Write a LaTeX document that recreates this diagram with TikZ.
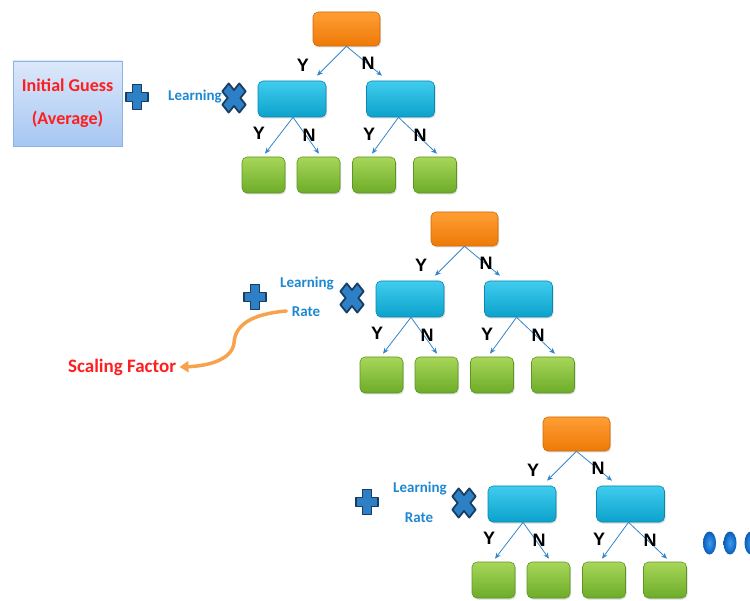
\documentclass[tikz,border=0pt]{standalone}
\usepackage{fontspec}
\setmainfont{Carlito}
\newfontfamily\ynfont{Liberation Sans}
\usetikzlibrary{shadows,arrows.meta,calc}

\definecolor{orangeT}{HTML}{FF9E34}
\definecolor{orangeB}{HTML}{EE7A08}
\definecolor{orangeD}{HTML}{D06A00}
\definecolor{cyanT}{HTML}{40CCEE}
\definecolor{cyanB}{HTML}{0CA2CC}
\definecolor{cyanD}{HTML}{0A88B0}
\definecolor{greenT}{HTML}{A8D65A}
\definecolor{greenB}{HTML}{6CAC28}
\definecolor{greenD}{HTML}{5C9620}
\definecolor{flowblue}{HTML}{3486CA}
\definecolor{opblue}{HTML}{2E80C6}
\definecolor{opnavy}{HTML}{183C62}
\definecolor{learnblue}{HTML}{1E88D2}
\definecolor{guessred}{HTML}{FF1E1E}
\definecolor{guessT}{HTML}{DCE8FA}
\definecolor{guessB}{HTML}{A6C6F2}
\definecolor{guessD}{HTML}{8EB2E4}
\definecolor{curveorange}{HTML}{F7A24C}
\definecolor{dotlight}{HTML}{3A9CF0}
\definecolor{dotdark}{HTML}{0A5CB8}

\tikzset{
  box/.style={rounded corners=5pt, inner sep=0pt, line width=0.6pt,
    drop shadow={opacity=0.3, shadow xshift=1pt, shadow yshift=-1.5pt}},
  rootbox/.style={box, minimum width=67pt, minimum height=34pt,
    top color=orangeT, bottom color=orangeB, draw=orangeD},
  midbox/.style={box, minimum width=68pt, minimum height=36pt,
    top color=cyanT, bottom color=cyanB, draw=cyanD},
  leafbox/.style={box, minimum width=43pt, minimum height=36pt,
    top color=greenT, bottom color=greenB, draw=greenD},
  yn/.style={font=\ynfont\bfseries\fontsize{18}{18}\selectfont, inner sep=0pt},
  flow/.style={draw=flowblue, line width=0.8pt, -{Stealth[length=6pt,width=5pt]}},
  optext/.style={font=\bfseries\fontsize{15}{18}\selectfont, text=learnblue},
  scalearrow/.style={draw=curveorange, line width=3.5pt, line cap=round,
    -{Triangle[length=9pt,width=11pt]}},
  dot/.style={inner color=dotlight, outer color=dotdark},
  plussign/.pic={
    \draw[line width=1.8pt, draw=opnavy, fill=opblue, line join=round]
      (-4.5,-12.5) -- (4.5,-12.5) -- (4.5,-4.5) -- (11,-4.5) -- (11,4.5) -- (4.5,4.5)
      -- (4.5,12.5) -- (-4.5,12.5) -- (-4.5,4.5) -- (-11,4.5) -- (-11,-4.5) -- (-4.5,-4.5) -- cycle;},
  timessign/.pic={
    \draw[line width=1.8pt, draw=opnavy, fill=opblue, line join=round,
          yscale=1.25, rotate=45]
      (-4.5,-12) -- (4.5,-12) -- (4.5,-4.5) -- (12,-4.5) -- (12,4.5) -- (4.5,4.5)
      -- (4.5,12) -- (-4.5,12) -- (-4.5,4.5) -- (-12,4.5) -- (-12,-4.5) -- (-4.5,-4.5) -- cycle;},
}

% one boosting stage: a depth-two decision tree with its + and x operators
\newcommand\drawtree[3]{%
\begin{scope}[shift={(#2,#3)}]
  \node[rootbox] (#1-root) at (346.5,29) {};
  \node[midbox]  (#1-yes)  at (292,99) {};
  \node[midbox]  (#1-no)   at (400.5,99) {};
  \node[leafbox] (#1-yy)   at (263.5,175) {};
  \node[leafbox] (#1-yn)   at (318.5,175) {};
  \node[leafbox] (#1-ny)   at (374,175) {};
  \node[leafbox] (#1-nn)   at (435,175) {};
  \draw[flow] (#1-root.south) -- ([xshift=25pt,yshift=5pt]#1-yes.north);
  \draw[flow] (#1-root.south) -- ([xshift=-18.5pt,yshift=5pt]#1-no.north);
  \draw[flow] ([xshift=1pt]#1-yes.south) -- ([xshift=1.5pt,yshift=3pt]#1-yy.north);
  \draw[flow] ([xshift=1pt]#1-yes.south) -- ([xshift=0.5pt,yshift=3pt]#1-yn.north);
  \draw[flow] ([xshift=-2pt]#1-no.south) -- ([xshift=-2pt,yshift=3pt]#1-ny.north);
  \draw[flow] ([xshift=-2pt]#1-no.south) -- ([xshift=2pt,yshift=3pt]#1-nn.north);
  \node[yn] (#1-ly)  at (303,65)  {Y};
  \node[yn] (#1-ln)  at (368,63)  {N};
  \node[yn] (#1-lyy) at (259,133) {Y};
  \node[yn] (#1-lyn) at (309,135) {N};
  \node[yn] (#1-lny) at (369,134) {Y};
  \node[yn] (#1-lnn) at (420,135) {N};
  \pic at (137,97) {plussign};
  \pic at (234,98) {timessign};
\end{scope}}

\begin{document}
\begin{tikzpicture}[x=1pt, y=-1pt]
  \clip (0,0) rectangle (750,601);

  % first stage, started from the initial guess
  \node[draw=guessD, line width=0.8pt, top color=guessT, bottom color=guessB,
        minimum width=109pt, minimum height=85pt, inner sep=0pt,
        drop shadow={opacity=0.3, shadow xshift=1pt, shadow yshift=-1.5pt},
        align=center, text=guessred,
        font=\bfseries\fontsize{18}{33}\selectfont]
        (guess) at (67.5,103.5) {Initial Guess\\(Average)};
  \drawtree{ta}{0}{0}
  \node[optext] (ta-learn) at (195,97) {Learning};

  % second stage
  \drawtree{tb}{118}{200}
  \node[optext] (tb-learn) at (307,284) {Learning};
  \node[optext] (tb-rate)  at (306,312) {Rate};

  % third stage
  \drawtree{tc}{230}{405}
  \node[optext] (tc-learn) at (420,489) {Learning};
  \node[optext] (tc-rate)  at (419,518) {Rate};

  % the learning rate acts as a scaling factor
  \node[font=\bfseries\fontsize{19}{19}\selectfont, text=guessred]
        (scale) at (122,367) {Scaling Factor};
  \coordinate (bend) at (234,343);
  \draw[scalearrow] ([xshift=-2pt,yshift=1pt]tb-rate.west)
      .. controls +(-35,3) and +(1,-18) .. (bend)
      .. controls +(-2,17) and +(28,-1) .. (scale.east);

  % more stages follow
  \foreach \cx in {709.5,730,751}
    \shade[dot] (\cx,543) ellipse [x radius=6.5, y radius=11.5];
\end{tikzpicture}
\end{document}
